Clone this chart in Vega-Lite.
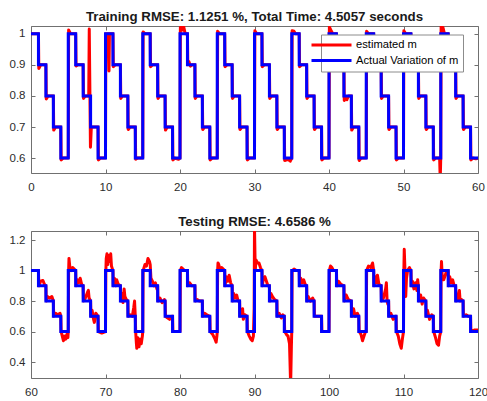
{
 "$schema": "https://vega.github.io/schema/vega-lite/v6.json",
 "padding": {"left": 8, "top": 9, "right": 0, "bottom": 3},
 "bounds": "flush",
 "spacing": 58,
 "config": {
  "view": {"stroke": "#707070", "strokeWidth": 1},
  "axis": {"grid": false, "domain": false, "tickSize": -4, "tickColor": "#707070", "labelFont": "Liberation Sans", "labelFontSize": 11.5, "labelColor": "#2b2b2b", "title": null, "labelFlush": false},
  "axisX": {"labelPadding": 12.7},
  "axisY": {"labelPadding": 10},
  "title": {"font": "Liberation Sans", "fontSize": 13.3, "fontWeight": "bold", "color": "#1a1a1a", "offset": 2.5}
 },
 "datasets": {
  "blue_top": [
   {"t":0,"v":1},{"t":1,"v":0.9},{"t":2,"v":0.8},{"t":3,"v":0.7},{"t":4,"v":0.6},
   {"t":5,"v":1},{"t":6,"v":0.9},{"t":7,"v":0.8},{"t":8,"v":0.7},{"t":9,"v":0.6},
   {"t":10,"v":1},{"t":11,"v":0.9},{"t":12,"v":0.8},{"t":13,"v":0.7},{"t":14,"v":0.6},
   {"t":15,"v":1},{"t":16,"v":0.9},{"t":17,"v":0.8},{"t":18,"v":0.7},{"t":19,"v":0.6},
   {"t":20,"v":1},{"t":21,"v":0.9},{"t":22,"v":0.8},{"t":23,"v":0.7},{"t":24,"v":0.6},
   {"t":25,"v":1},{"t":26,"v":0.9},{"t":27,"v":0.8},{"t":28,"v":0.7},{"t":29,"v":0.6},
   {"t":30,"v":1},{"t":31,"v":0.9},{"t":32,"v":0.8},{"t":33,"v":0.7},{"t":34,"v":0.6},
   {"t":35,"v":1},{"t":36,"v":0.9},{"t":37,"v":0.8},{"t":38,"v":0.7},{"t":39,"v":0.6},
   {"t":40,"v":1},{"t":41,"v":0.9},{"t":42,"v":0.8},{"t":43,"v":0.7},{"t":44,"v":0.6},
   {"t":45,"v":1},{"t":46,"v":0.9},{"t":47,"v":0.8},{"t":48,"v":0.7},{"t":49,"v":0.6},
   {"t":50,"v":1},{"t":51,"v":0.9},{"t":52,"v":0.8},{"t":53,"v":0.7},{"t":54,"v":0.6},
   {"t":55,"v":1},{"t":56,"v":0.9},{"t":57,"v":0.8},{"t":58,"v":0.7},{"t":59,"v":0.6},
   {"t":60,"v":0.6}
  ],
  "blue_bot": [
   {"t":60,"v":1},{"t":61,"v":0.9},{"t":62,"v":0.8},{"t":63,"v":0.7},{"t":64,"v":0.6},
   {"t":65,"v":1},{"t":66,"v":0.9},{"t":67,"v":0.8},{"t":68,"v":0.7},{"t":69,"v":0.6},
   {"t":70,"v":1},{"t":71,"v":0.9},{"t":72,"v":0.8},{"t":73,"v":0.7},{"t":74,"v":0.6},
   {"t":75,"v":1},{"t":76,"v":0.9},{"t":77,"v":0.8},{"t":78,"v":0.7},{"t":79,"v":0.6},
   {"t":80,"v":1},{"t":81,"v":0.9},{"t":82,"v":0.8},{"t":83,"v":0.7},{"t":84,"v":0.6},
   {"t":85,"v":1},{"t":86,"v":0.9},{"t":87,"v":0.8},{"t":88,"v":0.7},{"t":89,"v":0.6},
   {"t":90,"v":1},{"t":91,"v":0.9},{"t":92,"v":0.8},{"t":93,"v":0.7},{"t":94,"v":0.6},
   {"t":95,"v":1},{"t":96,"v":0.9},{"t":97,"v":0.8},{"t":98,"v":0.7},{"t":99,"v":0.6},
   {"t":100,"v":1},{"t":101,"v":0.9},{"t":102,"v":0.8},{"t":103,"v":0.7},{"t":104,"v":0.6},
   {"t":105,"v":1},{"t":106,"v":0.9},{"t":107,"v":0.8},{"t":108,"v":0.7},{"t":109,"v":0.6},
   {"t":110,"v":1},{"t":111,"v":0.9},{"t":112,"v":0.8},{"t":113,"v":0.7},{"t":114,"v":0.6},
   {"t":115,"v":1},{"t":116,"v":0.9},{"t":117,"v":0.8},{"t":118,"v":0.7},{"t":119,"v":0.6},
   {"t":120,"v":0.6}
  ],
  "red_top": [
   {"t":0,"v":1},{"t":1,"v":1},{"t":1.05,"v":0.888},{"t":1.3,"v":0.9},
   {"t":2,"v":0.9},{"t":2.05,"v":0.79},{"t":2.3,"v":0.8},
   {"t":3,"v":0.8},{"t":3.05,"v":0.69},{"t":3.3,"v":0.7},
   {"t":4,"v":0.7},{"t":4.05,"v":0.594},{"t":4.3,"v":0.6},
   {"t":5,"v":0.6},{"t":5.05,"v":1.012},{"t":5.3,"v":1},
   {"t":6,"v":1},{"t":6.05,"v":0.896},{"t":6.3,"v":0.9},
   {"t":7,"v":0.9},{"t":7.05,"v":0.792},{"t":7.3,"v":0.8},{"t":7.75,"v":0.8},{"t":7.82,"v":1.015},{"t":7.98,"v":0.635},{"t":8.1,"v":0.7},{"t":8.3,"v":0.7},
   {"t":9,"v":0.7},{"t":9.05,"v":0.594},{"t":9.3,"v":0.6},
   {"t":10,"v":0.6},{"t":10.05,"v":1},{"t":10.4,"v":1},{"t":10.47,"v":0.88},{"t":10.53,"v":1},
   {"t":11,"v":1},{"t":11.05,"v":0.894},{"t":11.3,"v":0.9},
   {"t":12,"v":0.9},{"t":12.05,"v":0.792},{"t":12.3,"v":0.8},
   {"t":13,"v":0.8},{"t":13.05,"v":0.692},{"t":13.3,"v":0.7},
   {"t":14,"v":0.7},{"t":14.05,"v":0.596},{"t":14.3,"v":0.6},
   {"t":15,"v":0.6},{"t":15.05,"v":1.006},{"t":15.3,"v":1},
   {"t":16,"v":1},{"t":16.05,"v":0.894},{"t":16.3,"v":0.9},
   {"t":17,"v":0.9},{"t":17.05,"v":0.792},{"t":17.3,"v":0.8},
   {"t":18,"v":0.8},{"t":18.05,"v":0.69},{"t":18.3,"v":0.7},
   {"t":19,"v":0.7},{"t":19.05,"v":0.594},{"t":19.3,"v":0.6},{"t":19.8,"v":0.596},
   {"t":20,"v":0.6},{"t":20.05,"v":1.02},{"t":20.2,"v":1.026},{"t":20.35,"v":1.012},{"t":20.5,"v":1.022},{"t":20.7,"v":1},
   {"t":21,"v":1},{"t":21.05,"v":0.9},{"t":21.2,"v":0.91},{"t":21.4,"v":0.896},{"t":21.6,"v":0.9},
   {"t":22,"v":0.9},{"t":22.05,"v":0.792},{"t":22.3,"v":0.8},
   {"t":23,"v":0.8},{"t":23.05,"v":0.692},{"t":23.3,"v":0.7},
   {"t":24,"v":0.7},{"t":24.05,"v":0.594},{"t":24.3,"v":0.6},
   {"t":25,"v":0.6},{"t":25.05,"v":1.008},{"t":25.3,"v":1},
   {"t":26,"v":1},{"t":26.05,"v":0.894},{"t":26.3,"v":0.9},
   {"t":27,"v":0.9},{"t":27.05,"v":0.792},{"t":27.3,"v":0.8},
   {"t":28,"v":0.8},{"t":28.05,"v":0.692},{"t":28.3,"v":0.7},
   {"t":29,"v":0.7},{"t":29.05,"v":0.594},{"t":29.3,"v":0.6},
   {"t":30,"v":0.6},{"t":30.05,"v":1.01},{"t":30.3,"v":1},
   {"t":31,"v":1},{"t":31.05,"v":0.894},{"t":31.3,"v":0.9},
   {"t":32,"v":0.9},{"t":32.05,"v":0.792},{"t":32.3,"v":0.8},
   {"t":33,"v":0.8},{"t":33.05,"v":0.692},{"t":33.3,"v":0.7},
   {"t":34,"v":0.7},{"t":34.05,"v":0.592},{"t":34.5,"v":0.596},{"t":34.8,"v":0.59},
   {"t":35,"v":0.6},{"t":35.05,"v":1.01},{"t":35.3,"v":1.008},{"t":35.5,"v":1},
   {"t":36,"v":1},{"t":36.05,"v":0.894},{"t":36.3,"v":0.9},
   {"t":37,"v":0.9},{"t":37.05,"v":0.792},{"t":37.3,"v":0.8},
   {"t":38,"v":0.8},{"t":38.05,"v":0.692},{"t":38.3,"v":0.7},
   {"t":39,"v":0.7},{"t":39.05,"v":0.594},{"t":39.3,"v":0.6},
   {"t":40,"v":0.6},{"t":40.05,"v":1.022},{"t":40.25,"v":1.012},{"t":40.5,"v":1},
   {"t":41,"v":1},{"t":41.05,"v":0.894},{"t":41.3,"v":0.9},
   {"t":42,"v":0.9},{"t":42.05,"v":0.785},{"t":42.2,"v":0.795},{"t":42.4,"v":0.788},{"t":42.6,"v":0.8},
   {"t":43,"v":0.8},{"t":43.05,"v":0.69},{"t":43.3,"v":0.7},
   {"t":44,"v":0.7},{"t":44.05,"v":0.592},{"t":44.3,"v":0.6},
   {"t":45,"v":0.6},{"t":45.05,"v":1.008},{"t":45.3,"v":1},
   {"t":46,"v":1},{"t":46.05,"v":0.894},{"t":46.3,"v":0.9},
   {"t":47,"v":0.9},{"t":47.05,"v":0.792},{"t":47.3,"v":0.8},
   {"t":48,"v":0.8},{"t":48.05,"v":0.692},{"t":48.3,"v":0.7},
   {"t":49,"v":0.7},{"t":49.05,"v":0.594},{"t":49.3,"v":0.6},
   {"t":50,"v":0.6},{"t":50.05,"v":1.01},{"t":50.3,"v":1},
   {"t":51,"v":1},{"t":51.05,"v":0.894},{"t":51.3,"v":0.9},
   {"t":52,"v":0.9},{"t":52.05,"v":0.792},{"t":52.3,"v":0.8},
   {"t":53,"v":0.8},{"t":53.05,"v":0.692},{"t":53.3,"v":0.7},
   {"t":54,"v":0.7},{"t":54.05,"v":0.594},{"t":54.3,"v":0.6},{"t":54.85,"v":0.6},{"t":54.93,"v":0.53},
   {"t":55,"v":0.6},{"t":55.05,"v":1.025},{"t":55.3,"v":1.02},{"t":55.5,"v":1},
   {"t":56,"v":1},{"t":56.05,"v":0.894},{"t":56.3,"v":0.9},
   {"t":57,"v":0.9},{"t":57.05,"v":0.792},{"t":57.3,"v":0.8},
   {"t":58,"v":0.8},{"t":58.05,"v":0.692},{"t":58.3,"v":0.7},
   {"t":59,"v":0.7},{"t":59.05,"v":0.594},{"t":59.3,"v":0.6},{"t":59.7,"v":0.598},{"t":60,"v":0.6}
  ],
  "red_bot": [
   {"t":60,"v":1},{"t":60.5,"v":1},{"t":61,"v":1},{"t":61.05,"v":0.9},{"t":61.3,"v":0.93},{"t":61.6,"v":0.935},{"t":61.8,"v":0.91},
   {"t":62,"v":0.9},{"t":62.05,"v":0.8},{"t":62.2,"v":0.83},{"t":62.5,"v":0.82},{"t":62.8,"v":0.83},
   {"t":63,"v":0.8},{"t":63.05,"v":0.7},{"t":63.3,"v":0.72},{"t":63.6,"v":0.71},{"t":63.9,"v":0.72},
   {"t":64,"v":0.7},{"t":64.05,"v":0.6},{"t":64.2,"v":0.57},{"t":64.35,"v":0.54},{"t":64.5,"v":0.57},{"t":64.65,"v":0.55},{"t":64.8,"v":0.58},{"t":64.95,"v":0.56},
   {"t":65,"v":0.6},{"t":65.05,"v":1},{"t":65.1,"v":1.08},{"t":65.2,"v":1.03},{"t":65.4,"v":1},{"t":65.6,"v":1.02},
   {"t":66,"v":1},{"t":66.05,"v":0.9},{"t":66.2,"v":0.94},{"t":66.4,"v":0.92},{"t":66.6,"v":0.95},{"t":66.8,"v":0.91},
   {"t":67,"v":0.9},{"t":67.05,"v":0.8},{"t":67.3,"v":0.82},{"t":67.6,"v":0.86},{"t":67.7,"v":0.87},{"t":67.8,"v":0.82},
   {"t":68,"v":0.8},{"t":68.05,"v":0.7},{"t":68.2,"v":0.74},{"t":68.4,"v":0.68},{"t":68.5,"v":0.66},{"t":68.7,"v":0.72},
   {"t":69,"v":0.7},{"t":69.05,"v":0.6},{"t":69.5,"v":0.59},
   {"t":70,"v":0.6},{"t":70.05,"v":1},{"t":70.1,"v":1.08},{"t":70.2,"v":1.11},{"t":70.3,"v":1.04},{"t":70.4,"v":1.1},{"t":70.55,"v":1.06},{"t":70.7,"v":1.11},{"t":70.8,"v":1.03},
   {"t":71,"v":1},{"t":71.05,"v":0.9},{"t":71.2,"v":0.95},{"t":71.4,"v":0.9},{"t":71.5,"v":0.94},{"t":71.7,"v":0.91},
   {"t":72,"v":0.9},{"t":72.05,"v":0.8},{"t":72.2,"v":0.85},{"t":72.35,"v":0.79},{"t":72.5,"v":0.88},{"t":72.6,"v":0.83},{"t":72.8,"v":0.81},
   {"t":73,"v":0.8},{"t":73.05,"v":0.7},{"t":73.3,"v":0.71},{"t":73.6,"v":0.7},{"t":73.8,"v":0.76},{"t":73.9,"v":0.8},
   {"t":74,"v":0.7},{"t":74.05,"v":0.6},{"t":74.15,"v":0.52},{"t":74.2,"v":0.49},{"t":74.35,"v":0.56},{"t":74.5,"v":0.5},{"t":74.65,"v":0.55},{"t":74.8,"v":0.52},{"t":74.95,"v":0.57},
   {"t":75,"v":0.6},{"t":75.05,"v":1},{"t":75.3,"v":1.04},{"t":75.5,"v":1.03},{"t":75.7,"v":1.08},{"t":75.9,"v":1.06},
   {"t":76,"v":1.04},{"t":76.1,"v":0.95},{"t":76.3,"v":0.93},{"t":76.5,"v":0.9},{"t":76.7,"v":0.92},{"t":76.9,"v":0.88},
   {"t":77,"v":0.9},{"t":77.05,"v":0.8},{"t":77.3,"v":0.82},{"t":77.6,"v":0.79},{"t":77.9,"v":0.81},
   {"t":78,"v":0.8},{"t":78.05,"v":0.7},{"t":78.3,"v":0.69},{"t":78.6,"v":0.68},{"t":78.9,"v":0.7},
   {"t":79,"v":0.7},{"t":79.05,"v":0.6},{"t":79.5,"v":0.6},
   {"t":80,"v":0.6},{"t":80.05,"v":1},{"t":80.2,"v":1.02},{"t":80.4,"v":1.01},{"t":80.6,"v":1},
   {"t":81,"v":1},{"t":81.05,"v":0.9},{"t":81.3,"v":0.92},{"t":81.6,"v":0.9},
   {"t":82,"v":0.9},{"t":82.05,"v":0.8},{"t":82.3,"v":0.81},{"t":82.6,"v":0.8},
   {"t":83,"v":0.8},{"t":83.05,"v":0.7},{"t":83.3,"v":0.72},{"t":83.6,"v":0.71},
   {"t":84,"v":0.7},{"t":84.05,"v":0.6},{"t":84.4,"v":0.58},{"t":84.7,"v":0.55},{"t":84.85,"v":0.53},{"t":84.95,"v":0.57},
   {"t":85,"v":0.6},{"t":85.05,"v":1},{"t":85.1,"v":1.05},{"t":85.2,"v":1.04},{"t":85.4,"v":1},{"t":85.6,"v":1.02},
   {"t":86,"v":1},{"t":86.05,"v":0.9},{"t":86.2,"v":0.96},{"t":86.4,"v":0.93},{"t":86.6,"v":0.97},{"t":86.8,"v":0.92},
   {"t":87,"v":0.9},{"t":87.05,"v":0.8},{"t":87.2,"v":0.85},{"t":87.4,"v":0.82},{"t":87.6,"v":0.84},{"t":87.8,"v":0.8},
   {"t":88,"v":0.8},{"t":88.05,"v":0.7},{"t":88.2,"v":0.72},{"t":88.4,"v":0.75},{"t":88.5,"v":0.68},{"t":88.7,"v":0.71},
   {"t":89,"v":0.7},{"t":89.05,"v":0.6},{"t":89.3,"v":0.57},{"t":89.5,"v":0.55},{"t":89.7,"v":0.54},{"t":89.85,"v":0.57},{"t":89.95,"v":0.75},
   {"t":90,"v":1.28},{"t":90.1,"v":1},{"t":90.2,"v":1.07},{"t":90.4,"v":1.05},{"t":90.6,"v":1.05},{"t":90.8,"v":1.02},
   {"t":91,"v":1},{"t":91.05,"v":0.9},{"t":91.2,"v":0.95},{"t":91.4,"v":0.96},{"t":91.6,"v":0.93},{"t":91.8,"v":0.9},
   {"t":92,"v":0.9},{"t":92.05,"v":0.8},{"t":92.2,"v":0.85},{"t":92.4,"v":0.83},{"t":92.7,"v":0.81},
   {"t":93,"v":0.8},{"t":93.05,"v":0.7},{"t":93.3,"v":0.72},{"t":93.6,"v":0.69},{"t":93.8,"v":0.71},
   {"t":94,"v":0.7},{"t":94.05,"v":0.6},{"t":94.3,"v":0.58},{"t":94.5,"v":0.57},{"t":94.7,"v":0.52},{"t":94.85,"v":0.25},{"t":94.95,"v":0.5},
   {"t":95,"v":0.6},{"t":95.05,"v":1},{"t":95.3,"v":1.01},{"t":95.6,"v":1},
   {"t":96,"v":1},{"t":96.05,"v":0.9},{"t":96.2,"v":0.95},{"t":96.4,"v":0.92},{"t":96.6,"v":0.94},{"t":96.8,"v":0.91},
   {"t":97,"v":0.9},{"t":97.05,"v":0.8},{"t":97.2,"v":0.83},{"t":97.5,"v":0.8},{"t":97.8,"v":0.82},
   {"t":98,"v":0.8},{"t":98.05,"v":0.7},{"t":98.4,"v":0.7},
   {"t":99,"v":0.7},{"t":99.05,"v":0.6},{"t":99.5,"v":0.6},
   {"t":100,"v":0.6},{"t":100.05,"v":1},{"t":100.2,"v":1.03},{"t":100.4,"v":1.02},{"t":100.6,"v":1},
   {"t":101,"v":1},{"t":101.05,"v":0.9},{"t":101.3,"v":0.93},{"t":101.6,"v":0.91},
   {"t":102,"v":0.9},{"t":102.05,"v":0.8},{"t":102.3,"v":0.84},{"t":102.6,"v":0.81},
   {"t":103,"v":0.8},{"t":103.05,"v":0.7},{"t":103.3,"v":0.75},{"t":103.5,"v":0.7},{"t":103.8,"v":0.72},
   {"t":104,"v":0.7},{"t":104.05,"v":0.6},{"t":104.3,"v":0.58},{"t":104.5,"v":0.54},{"t":104.7,"v":0.57},{"t":104.9,"v":0.6},
   {"t":105,"v":0.6},{"t":105.05,"v":1},{"t":105.3,"v":1.03},{"t":105.6,"v":1.02},{"t":105.85,"v":1.05},
   {"t":106,"v":1},{"t":106.05,"v":0.9},{"t":106.2,"v":0.96},{"t":106.4,"v":0.92},{"t":106.5,"v":0.97},{"t":106.7,"v":0.91},
   {"t":107,"v":0.9},{"t":107.05,"v":0.8},{"t":107.3,"v":0.82},{"t":107.6,"v":0.88},{"t":107.7,"v":0.92},{"t":107.8,"v":0.8},{"t":107.9,"v":0.78},
   {"t":108,"v":0.8},{"t":108.05,"v":0.7},{"t":108.3,"v":0.72},{"t":108.6,"v":0.68},{"t":108.9,"v":0.7},
   {"t":109,"v":0.7},{"t":109.05,"v":0.6},{"t":109.3,"v":0.57},{"t":109.5,"v":0.52},{"t":109.7,"v":0.49},{"t":109.85,"v":0.55},
   {"t":110,"v":0.6},{"t":110.05,"v":1},{"t":110.1,"v":1.14},{"t":110.2,"v":1},{"t":110.3,"v":0.83},{"t":110.4,"v":0.95},{"t":110.55,"v":1},{"t":110.8,"v":1.02},
   {"t":111,"v":1},{"t":111.05,"v":0.9},{"t":111.2,"v":0.93},{"t":111.4,"v":0.88},{"t":111.6,"v":0.92},{"t":111.8,"v":0.87},{"t":111.9,"v":0.94},
   {"t":112,"v":0.9},{"t":112.05,"v":0.8},{"t":112.3,"v":0.84},{"t":112.5,"v":0.78},{"t":112.7,"v":0.82},
   {"t":113,"v":0.8},{"t":113.05,"v":0.7},{"t":113.2,"v":0.74},{"t":113.5,"v":0.68},{"t":113.8,"v":0.71},
   {"t":114,"v":0.7},{"t":114.05,"v":0.6},{"t":114.3,"v":0.56},{"t":114.5,"v":0.52},{"t":114.7,"v":0.51},{"t":114.85,"v":0.57},
   {"t":115,"v":0.6},{"t":115.05,"v":1},{"t":115.1,"v":1.06},{"t":115.2,"v":0.96},{"t":115.4,"v":0.94},{"t":115.6,"v":0.97},{"t":115.8,"v":1},
   {"t":116,"v":1},{"t":116.05,"v":0.9},{"t":116.2,"v":0.96},{"t":116.4,"v":0.92},{"t":116.6,"v":0.94},{"t":116.8,"v":0.9},
   {"t":117,"v":0.9},{"t":117.05,"v":0.8},{"t":117.3,"v":0.82},{"t":117.5,"v":0.87},{"t":117.6,"v":0.8},{"t":117.8,"v":0.81},
   {"t":118,"v":0.8},{"t":118.05,"v":0.7},{"t":118.4,"v":0.71},{"t":118.7,"v":0.7},
   {"t":119,"v":0.7},{"t":119.05,"v":0.6},{"t":119.5,"v":0.61},{"t":120,"v":0.61}
  ]
 },
 "vconcat": [
  {
   "width": 447,
   "height": 147,
   "title": "Training RMSE: 1.1251 %, Total Time: 4.5057 seconds",
   "layer": [
    {
     "data": {"name": "red_top"},
     "mark": {"type": "line", "strokeWidth": 3, "clip": true, "strokeJoin": "round"},
     "encoding": {
      "x": {"field": "t", "type": "quantitative", "scale": {"domain": [0, 60], "nice": false, "zero": false}, "axis": {"values": [0, 10, 20, 30, 40, 50, 60]}},
      "y": {"field": "v", "type": "quantitative", "scale": {"domain": [0.552, 1.025], "nice": false, "zero": false}, "axis": {"values": [0.6, 0.7, 0.8, 0.9, 1], "format": "~g"}},
      "color": {
       "datum": "estimated m",
       "type": "nominal",
       "scale": {"domain": ["estimated m", "Actual Variation of m"], "range": ["#ff0000", "#0000ff"]},
       "legend": {"orient": "none", "legendX": 290, "legendY": 8.5, "title": null, "symbolType": "M-4,0H4", "symbolSize": 100, "symbolStrokeWidth": 3, "labelFont": "Liberation Sans", "labelFontSize": 11.2, "labelColor": "#000000", "fillColor": "#ffffff", "strokeColor": "#8c8c8c", "padding": 4, "rowPadding": 2.6, "labelOffset": 18, "labelLimit": 300}
      }
     }
    },
    {
     "data": {"name": "blue_top"},
     "mark": {"type": "line", "strokeWidth": 3, "clip": true, "interpolate": "step-after"},
     "encoding": {
      "x": {"field": "t", "type": "quantitative", "axis": {"orient": "top", "labels": false, "values": [0, 10, 20, 30, 40, 50, 60]}},
      "y": {"field": "v", "type": "quantitative", "axis": {"orient": "right", "labels": false, "values": [0.6, 0.7, 0.8, 0.9, 1]}},
      "color": {"datum": "Actual Variation of m", "type": "nominal"}
     }
    }
   ],
   "resolve": {"axis": {"x": "independent", "y": "independent"}}
  },
  {
   "width": 447,
   "height": 147,
   "title": "Testing RMSE: 4.6586 %",
   "layer": [
    {
     "data": {"name": "red_bot"},
     "mark": {"type": "line", "strokeWidth": 3, "clip": true, "strokeJoin": "round", "color": "#ff0000"},
     "encoding": {
      "x": {"field": "t", "type": "quantitative", "scale": {"domain": [60, 120], "nice": false, "zero": false}, "axis": {"values": [60, 70, 80, 90, 100, 110, 120]}},
      "y": {"field": "v", "type": "quantitative", "scale": {"domain": [0.295, 1.26], "nice": false, "zero": false}, "axis": {"values": [0.4, 0.6, 0.8, 1, 1.2], "format": "~g"}}
     }
    },
    {
     "data": {"name": "blue_bot"},
     "mark": {"type": "line", "strokeWidth": 3, "clip": true, "interpolate": "step-after", "color": "#0000ff"},
     "encoding": {
      "x": {"field": "t", "type": "quantitative", "axis": {"orient": "top", "labels": false, "values": [60, 70, 80, 90, 100, 110, 120]}},
      "y": {"field": "v", "type": "quantitative", "axis": {"orient": "right", "labels": false, "values": [0.4, 0.6, 0.8, 1, 1.2]}}
     }
    }
   ],
   "resolve": {"axis": {"x": "independent", "y": "independent"}}
  }
 ]
}
